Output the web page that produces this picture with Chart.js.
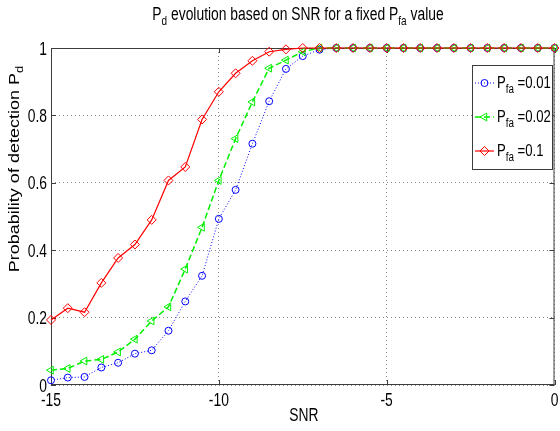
<!DOCTYPE html>
<html>
<head>
<meta charset="utf-8">
<title>Pd vs SNR</title>
<script src="https://cdn.jsdelivr.net/npm/chart.js@4/dist/chart.umd.min.js"></script>
<style>
  html, body { margin: 0; padding: 0; background: #fff; }
  #wrap { width: 560px; height: 431px; }
</style>
</head>
<body>
<div id="wrap"><canvas id="pdChart" width="560" height="431"></canvas></div>
<script>
// SNR grid (dB) and detection probability for each false-alarm rate
const snr = [-15, -14.5, -14, -13.5, -13, -12.5, -12, -11.5, -11, -10.5,
             -10, -9.5, -9, -8.5, -8, -7.5, -7, -6.5, -6, -5.5,
             -5, -4.5, -4, -3.5, -3, -2.5, -2, -1.5, -1, -0.5, 0];
const pdPfa001 = [0.014, 0.022, 0.024, 0.052, 0.066, 0.093, 0.103, 0.161, 0.248, 0.324,
                  0.493, 0.579, 0.716, 0.842, 0.938, 0.976, 0.995, 1, 1, 1,
                  1, 1, 1, 1, 1, 1, 1, 1, 1, 1, 1];
const pdPfa002 = [0.044, 0.049, 0.071, 0.076, 0.098, 0.136, 0.190, 0.232, 0.344, 0.468,
                  0.607, 0.731, 0.840, 0.940, 0.964, 0.989, 1, 1, 1, 1,
                  1, 1, 1, 1, 1, 1, 1, 1, 1, 1, 1];
const pdPfa01  = [0.193, 0.228, 0.216, 0.303, 0.377, 0.417, 0.490, 0.607, 0.647, 0.788,
                  0.870, 0.925, 0.962, 0.989, 0.996, 1, 1, 1, 1, 1,
                  1, 1, 1, 1, 1, 1, 1, 1, 1, 1, 1];
const pfaLabels = ['0.01', '0.02', '0.1'];

const xTicks = [-15, -10, -5, 0];
const yTicks = [0, 0.2, 0.4, 0.6, 0.8, 1];
const xTickLabels = ['-15', '-10', '-5', '0'];
const yTickLabels = ['0', '0.2', '0.4', '0.6', '0.8', '1'];

const FONT = "'Liberation Sans', Arial, sans-serif";
const AXIS_COLOR = '#3c3c3c';
// glyphs are drawn tall and narrow
const SQUEEZE = 0.77;
const FS = 18;

const toPoints = ys => snr.map((x, i) => ({ x: x, y: ys[i] }));

const series = [
  { label: pfaLabels[0], data: pdPfa001, color: '#0000ff', dash: [1, 2], width: 1,
    pointStyle: 'circle', radius: 3.5, rotation: 0, order: 3 },
  { label: pfaLabels[1], data: pdPfa002, color: '#00f000', dash: [6, 3], width: 1.5,
    pointStyle: 'triangle', radius: 4.5, rotation: -90, order: 2 },
  { label: pfaLabels[2], data: pdPfa01, color: '#ff0000', dash: [], width: 1.2,
    pointStyle: 'rectRot', radius: 4.5, rotation: 0, order: 1 }
];

// text with subscripts: parts = [{t, sub}], y is the baseline
function drawRich(ctx, parts, x, y, align, size, sx) {
  const mainFont = size + 'px ' + FONT;
  const subFont = Math.round(size * 0.72) + 'px ' + FONT;
  let w = 0;
  parts.forEach(p => { ctx.font = p.sub ? subFont : mainFont; w += ctx.measureText(p.t).width; });
  let cx = align === 'center' ? -w / 2 : align === 'right' ? -w : 0;
  ctx.save();
  ctx.translate(x, y);
  ctx.scale(sx, 1);
  ctx.textAlign = 'left';
  ctx.textBaseline = 'alphabetic';
  parts.forEach(p => {
    ctx.font = p.sub ? subFont : mainFont;
    ctx.fillText(p.t, cx, p.sub ? size * 0.3 : 0);
    cx += ctx.measureText(p.t).width;
  });
  ctx.restore();
}

const frame = {
  id: 'frame',
  beforeDatasetsDraw(chart) {
    const { ctx, chartArea: a, scales } = chart;
    ctx.save();
    ctx.strokeStyle = AXIS_COLOR;
    ctx.lineWidth = 1;
    ctx.strokeRect(a.left + 0.5, a.top + 0.5, a.right - a.left - 1, a.bottom - a.top - 1);
    // inward ticks on all four sides
    const tl = 5;
    ctx.beginPath();
    xTicks.forEach(v => {
      const px = Math.round(scales.x.getPixelForValue(v)) + 0.5;
      ctx.moveTo(px, a.bottom); ctx.lineTo(px, a.bottom - tl);
      ctx.moveTo(px, a.top); ctx.lineTo(px, a.top + tl);
    });
    yTicks.forEach(v => {
      const py = Math.round(scales.y.getPixelForValue(v)) + 0.5;
      ctx.moveTo(a.left, py); ctx.lineTo(a.left + tl, py);
      ctx.moveTo(a.right, py); ctx.lineTo(a.right - tl, py);
    });
    ctx.stroke();

    // tick labels
    ctx.fillStyle = '#000';
    xTicks.forEach((v, i) => {
      drawRich(ctx, [{ t: xTickLabels[i] }], scales.x.getPixelForValue(v), 406, 'center', FS, SQUEEZE);
    });
    yTicks.forEach((v, i) => {
      drawRich(ctx, [{ t: yTickLabels[i] }], 47, scales.y.getPixelForValue(v) + 6.5, 'right', FS, SQUEEZE);
    });
    ctx.restore();
  },
  afterDraw(chart) {
    const { ctx } = chart;
    ctx.save();
    ctx.fillStyle = '#000';

    drawRich(ctx, [{ t: 'P' }, { t: 'd', sub: true },
      { t: ' evolution based on SNR for a fixed P' }, { t: 'fa', sub: true }, { t: ' value' }],
      298, 20, 'center', FS, SQUEEZE);

    drawRich(ctx, [{ t: 'SNR' }], 304, 421, 'center', FS, SQUEEZE);

    // y axis title, reading upwards
    ctx.save();
    ctx.translate(19, 169);
    ctx.rotate(-Math.PI / 2);
    ctx.scale(1, SQUEEZE);
    drawRich(ctx, [{ t: 'Probability of detection P' }, { t: 'd', sub: true }], 0, 0, 'center', FS, 1);
    ctx.restore();

    // legend
    const box = { left: 472, top: 65, right: 553, bottom: 170 };
    ctx.fillStyle = '#fff';
    ctx.fillRect(box.left, box.top, box.right - box.left, box.bottom - box.top);
    ctx.strokeStyle = AXIS_COLOR;
    ctx.lineWidth = 1;
    ctx.strokeRect(box.left + 0.5, box.top + 0.5, box.right - box.left - 1, box.bottom - box.top - 1);
    series.forEach((s, i) => {
      const cy = 83 + i * 34;
      ctx.save();
      ctx.strokeStyle = s.color;
      ctx.lineWidth = s.width;
      ctx.setLineDash(s.dash);
      ctx.beginPath();
      ctx.moveTo(475, cy); ctx.lineTo(494, cy);
      ctx.stroke();
      ctx.setLineDash([]);
      ctx.lineWidth = 1;
      ctx.fillStyle = 'rgba(0,0,0,0)';
      Chart.helpers.drawPoint(ctx, {
        pointStyle: s.pointStyle, radius: s.radius, rotation: s.rotation, borderWidth: 1
      }, 484.5, cy);
      ctx.restore();
      ctx.fillStyle = '#000';
      drawRich(ctx, [{ t: 'P' }, { t: 'fa', sub: true }, { t: ' =' + s.label }], 497, cy + 5, 'left', 16, 0.82);
    });
    ctx.restore();
  }
};

new Chart(document.getElementById('pdChart'), {
  type: 'line',
  data: {
    datasets: series.map(s => ({
      label: s.label,
      data: toPoints(s.data),
      borderColor: s.color,
      borderWidth: s.width,
      borderDash: s.dash,
      backgroundColor: 'rgba(0,0,0,0)',
      pointStyle: s.pointStyle,
      pointRadius: s.radius,
      pointRotation: s.rotation,
      pointBorderColor: s.color,
      pointBackgroundColor: 'rgba(0,0,0,0)',
      pointBorderWidth: 1,
      tension: 0,
      clip: false,
      order: s.order
    }))
  },
  options: {
    responsive: false,
    animation: false,
    devicePixelRatio: 1,
    layout: { padding: { top: 48, right: 2, left: 0, bottom: 0 } },
    plugins: { legend: { display: false }, title: { display: false }, tooltip: { enabled: false } },
    scales: {
      x: {
        type: 'linear', min: -15, max: 0,
        afterBuildTicks: s => { s.ticks = xTicks.map(v => ({ value: v })); },
        afterFit: s => { s.height = 46; s.paddingLeft = 0; s.paddingRight = 0; },
        grid: { color: '#8a8a8a', lineWidth: 1, drawTicks: false },
        border: { display: false, dash: [1, 3] },
        ticks: { display: false }
      },
      y: {
        type: 'linear', min: 0, max: 1,
        afterBuildTicks: s => { s.ticks = yTicks.map(v => ({ value: v })); },
        afterFit: s => { s.width = 51; s.paddingTop = 0; s.paddingBottom = 0; },
        grid: { color: '#8a8a8a', lineWidth: 1, drawTicks: false },
        border: { display: false, dash: [1, 3] },
        ticks: { display: false }
      }
    }
  },
  plugins: [frame]
});
</script>
</body>
</html>
